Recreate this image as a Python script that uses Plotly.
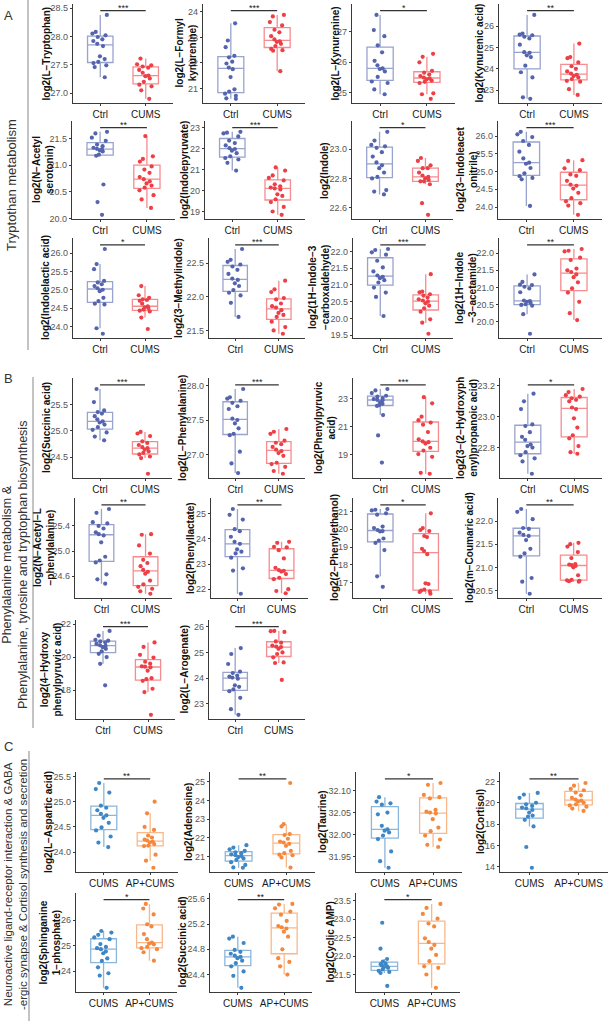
import plotly.graph_objects as go

W, H = 610, 1021

# ---------------- data ----------------
groups_AB = ["Ctrl", "CUMS"]
groups_C = ["CUMS", "AP+CUMS"]

titles_A = [
    "log2(L−Tryptophan)", "log2(L−Formyl<br>kynurenine)", "log2(L−Kynurenine)", "log2(Kynurenic acid)",
    "log2(N−Acetyl<br>serotonin)", "log2(Indolepyruvate)", "log2(Indole)", "log2(3−Indoleacet<br>onitrile)",
    "log2(Indolelactic acid)", "log2(3−Methylindole)", "log2(1H−Indole−3<br>−carboxaldehyde)", "log2(1H−Indole<br>−3−acetamide)",
]
ctrl_A = [
    [28.38, 28.08, 28.05, 28.02, 27.99, 27.95, 27.92, 27.87, 27.83, 27.65, 27.6, 27.55, 27.53, 27.49, 27.46, 27.28],
    [23.55, 22.88, 22.62, 22.28, 22.22, 22.05, 21.98, 21.82, 21.76, 21.45, 20.97, 20.88, 20.8, 20.72, 20.62, 20.6],
    [27.56, 27.06, 26.86, 26.56, 26.33, 26.05, 25.9, 25.8, 25.78, 25.7, 25.52, 25.37, 25.32, 25.11, 24.95],
    [26.52, 25.65, 25.6, 25.57, 25.5, 25.42, 25.13, 24.78, 24.75, 24.63, 24.55, 24.15, 23.84, 23.6, 22.67, 22.6],
    [21.63, 21.6, 21.52, 21.46, 21.39, 21.36, 21.33, 21.31, 21.3, 21.28, 21.26, 21.2, 21.18, 20.64, 20.31, 20.07],
    [22.8, 22.76, 22.72, 22.58, 22.38, 22.26, 22.15, 22.02, 21.98, 21.9, 21.78, 21.63, 21.55, 21.48, 21.32, 20.95],
    [23.12, 23.06, 23.03, 23.02, 23.01, 22.98, 22.95, 22.91, 22.89, 22.87, 22.84, 22.81, 22.8, 22.72, 22.71, 22.69],
    [26.12, 26.05, 25.97, 25.86, 25.75, 25.56, 25.37, 25.25, 25.22, 25.1, 24.95, 24.87, 24.82, 24.78, 24.03],
    [26.11, 25.7, 25.56, 25.24, 25.2, 25.15, 25.1, 25.04, 25.0, 24.96, 24.78, 24.69, 24.62, 24.6, 23.95, 23.8],
    [22.71, 22.55, 22.52, 22.48, 22.45, 22.4, 22.34, 22.27, 22.25, 22.2, 22.16, 22.1, 22.06, 22.02, 21.91, 21.7],
    [22.07, 22.04, 21.97, 21.9, 21.72, 21.52, 21.4, 21.28, 21.24, 21.2, 21.14, 21.07, 20.92, 20.77, 20.64, 20.07],
    [21.38, 21.16, 21.08, 21.07, 21.02, 20.97, 20.86, 20.62, 20.6, 20.58, 20.55, 20.51, 20.49, 20.47, 20.22, 19.65],
]
cums_A = [
    [27.61, 27.51, 27.49, 27.47, 27.45, 27.41, 27.36, 27.31, 27.3, 27.26, 27.2, 27.15, 27.12, 27.05, 26.9],
    [23.88, 23.82, 23.6, 23.47, 23.3, 23.2, 23.05, 22.92, 22.85, 22.82, 22.75, 22.66, 22.55, 22.5, 22.48, 21.68],
    [26.28, 26.18, 26.0, 25.72, 25.66, 25.6, 25.55, 25.5, 25.47, 25.44, 25.4, 25.36, 25.32, 24.98, 24.95, 24.8],
    [25.18, 24.55, 24.5, 24.3, 24.12, 24.0, 23.88, 23.78, 23.72, 23.66, 23.6, 23.52, 23.44, 23.4, 23.05, 22.78],
    [21.55, 21.17, 21.12, 21.07, 20.98, 20.92, 20.86, 20.78, 20.74, 20.7, 20.66, 20.62, 20.58, 20.53, 20.44, 20.36, 20.2],
    [21.1, 20.95, 20.72, 20.6, 20.48, 20.3, 20.2, 20.14, 20.1, 20.05, 19.82, 19.74, 19.58, 19.45, 19.22, 19.0, 18.84],
    [22.94, 22.92, 22.89, 22.87, 22.87, 22.84, 22.82, 22.81, 22.8, 22.79, 22.78, 22.78, 22.76, 22.63, 22.55],
    [25.32, 25.3, 25.09, 25.04, 24.92, 24.88, 24.74, 24.63, 24.6, 24.52, 24.4, 24.25, 24.16, 24.11, 24.04, 23.78],
    [25.1, 24.85, 24.78, 24.74, 24.72, 24.7, 24.62, 24.55, 24.52, 24.5, 24.46, 24.43, 24.41, 24.24, 23.93],
    [22.24, 22.11, 22.07, 21.98, 21.96, 21.9, 21.86, 21.84, 21.8, 21.76, 21.73, 21.7, 21.63, 21.55, 21.5, 21.45],
    [21.32, 20.8, 20.78, 20.72, 20.68, 20.62, 20.57, 20.53, 20.5, 20.45, 20.38, 20.3, 20.2, 19.97, 19.87, 19.54],
    [22.12, 22.07, 22.05, 21.87, 21.8, 21.55, 21.5, 21.45, 21.38, 21.3, 21.15, 20.97, 20.85, 20.58, 20.25, 20.05],
]
stars_A = ["***", "***", "*", "**", "**", "***", "*", "***", "*", "***", "***", "**"]
ticks_A = [
    [27.0, 27.5, 28.0, 28.5], [21, 22, 23, 24], [25, 26, 27], [23, 24, 25, 26],
    [20.0, 20.5, 21.0, 21.5], [19, 20, 21, 22, 23], [22.6, 22.8, 23.0], [24.0, 24.5, 25.0, 25.5, 26.0],
    [24.0, 24.5, 25.0, 25.5, 26.0], [21.5, 22.0, 22.5], [19.5, 20.0, 20.5, 21.0, 21.5, 22.0], [20.0, 20.5, 21.0, 21.5, 22.0],
]

titles_B = [
    "log2(Succinic acid)", "log2(L−Phenylalanine)", "log2(Phenylpyruvic<br>acid)", "log2(3−(2−Hydroxyph<br>enyl)propanoic acid)",
    "log2(N−Acetyl−L<br>−phenylalanine)", "log2(Phenyllactate)", "log2(2−Phenylethanol)", "log2(m−Coumaric acid)",
    "log2(4−Hydroxy<br>phenylpyruvic acid)", "log2(L−Arogenate)",
]
ctrl_B = [
    [25.8, 25.55, 25.39, 25.36, 25.33, 25.28, 25.22, 25.18, 25.16, 25.12, 25.07, 25.02, 24.97, 24.89, 24.82],
    [27.95, 27.83, 27.81, 27.78, 27.75, 27.7, 27.66, 27.52, 27.5, 27.45, 27.38, 27.3, 27.28, 27.04, 26.87, 26.73],
    [23.7, 23.6, 23.41, 23.22, 23.15, 23.05, 22.98, 22.93, 22.9, 22.75, 22.64, 22.55, 22.49, 21.84, 20.38, 18.44],
    [23.15, 23.1, 23.05, 22.95, 22.94, 22.9, 22.87, 22.85, 22.82, 22.81, 22.8, 22.77, 22.75, 22.73, 22.71, 22.63],
    [25.67, 25.61, 25.46, 25.44, 25.4, 25.36, 25.3, 25.27, 25.25, 25.14, 24.91, 24.85, 24.82, 24.63, 24.55, 24.48],
    [25.18, 24.95, 24.76, 24.38, 24.3, 24.08, 23.88, 23.8, 23.58, 23.49, 23.42, 23.25, 22.83, 22.74, 21.82],
    [21.14, 21.1, 21.06, 20.9, 20.82, 20.15, 20.07, 19.96, 19.9, 19.88, 19.48, 19.36, 19.23, 18.83, 17.35, 16.76],
    [22.26, 22.2, 22.04, 21.85, 21.83, 21.75, 21.7, 21.68, 21.59, 21.4, 21.3, 21.23, 20.77, 20.69, 20.43],
    [21.59, 21.3, 21.05, 21.0, 20.95, 20.9, 20.8, 20.72, 20.68, 20.6, 20.5, 20.35, 20.2, 20.0, 19.59, 18.29],
    [25.17, 24.94, 24.55, 24.25, 24.2, 24.1, 24.06, 24.02, 23.98, 23.72, 23.66, 23.56, 23.49, 23.23, 22.79, 22.57],
]
cums_B = [
    [24.98, 24.95, 24.9, 24.8, 24.77, 24.73, 24.69, 24.67, 24.64, 24.61, 24.58, 24.55, 24.51, 24.48, 24.18],
    [27.37, 27.33, 27.3, 27.2, 27.17, 27.15, 27.11, 27.07, 27.05, 27.02, 26.98, 26.88, 26.86, 26.82, 26.76, 26.72],
    [23.12, 22.68, 21.72, 21.47, 21.3, 21.15, 20.62, 20.1, 19.95, 19.9, 19.8, 19.5, 19.3, 19.05, 18.85, 17.71, 17.64],
    [23.18, 23.16, 23.14, 23.13, 23.12, 23.11, 23.1, 23.06, 23.05, 22.99, 22.93, 22.88, 22.86, 22.81, 22.77, 22.76],
    [25.27, 25.26, 25.09, 24.96, 24.86, 24.81, 24.76, 24.7, 24.67, 24.64, 24.53, 24.47, 24.43, 24.4, 24.36, 24.32],
    [23.88, 23.84, 23.68, 23.66, 23.55, 23.22, 22.85, 22.76, 22.73, 22.7, 22.6, 22.45, 22.4, 22.0, 21.93, 21.84],
    [20.9, 20.07, 19.96, 19.9, 19.62, 19.56, 18.9, 18.77, 18.6, 16.96, 16.92, 16.6, 16.55, 16.5, 16.47, 16.37],
    [21.53, 21.5, 21.45, 21.33, 21.2, 21.07, 21.06, 21.05, 21.03, 21.0, 20.83, 20.73, 20.72, 20.71, 20.7, 20.69],
    [20.89, 20.62, 20.14, 19.97, 19.72, 19.6, 19.44, 19.42, 19.38, 19.18, 18.72, 18.66, 18.56, 18.08, 17.88, 16.5],
    [25.84, 25.83, 25.8, 25.43, 25.38, 25.27, 25.23, 25.21, 25.14, 25.0, 24.94, 24.81, 24.61, 24.59, 23.93],
]
stars_B = ["***", "***", "***", "*", "**", "**", "*", "**", "***", "***"]
ticks_B = [
    [24.5, 25.0, 25.5], [27.0, 27.5, 28.0], [19, 21, 23], [22.8, 23.0, 23.2],
    [24.6, 25.0, 25.4], [22, 23, 24, 25], [17, 18, 19, 20, 21], [20.5, 21.0, 21.5, 22.0],
    [18, 20, 22], [23, 24, 25, 26],
]

titles_C = [
    "log2(L−Aspartic acid)", "log2(Adenosine)", "log2(Taurine)", "log2(Cortisol)",
    "log2(Sphinganine<br>1−phosphate)", "log2(Succinic acid)", "log2(Cyclic AMP)",
]
cums_C = [
    [25.37, 25.25, 25.18, 24.92, 24.88, 24.83, 24.76, 24.73, 24.68, 24.58, 24.49, 24.43, 24.31, 24.19, 24.1],
    [21.61, 21.48, 21.39, 21.3, 21.23, 21.18, 21.12, 21.07, 21.03, 20.97, 20.9, 20.82, 20.7, 20.55, 20.42, 20.4],
    [32.085, 32.075, 32.071, 32.068, 32.05, 32.046, 32.02, 32.012, 32.009, 32.005, 31.998, 31.99, 31.962, 31.94, 31.925],
    [20.92, 20.77, 20.46, 20.0, 19.86, 19.7, 19.55, 19.48, 19.32, 19.08, 18.8, 18.7, 18.4, 17.78, 15.85, 13.9],
    [25.57, 25.51, 25.42, 25.32, 25.25, 25.06, 24.95, 24.9, 24.86, 24.77, 24.7, 24.5, 24.4, 24.15, 23.92, 23.83, 23.35],
    [25.0, 24.97, 24.9, 24.79, 24.76, 24.73, 24.7, 24.68, 24.66, 24.62, 24.58, 24.53, 24.45, 24.38, 24.19],
    [22.9, 22.2, 21.92, 21.85, 21.8, 21.78, 21.74, 21.72, 21.7, 21.68, 21.64, 21.6, 21.57, 21.54, 21.19],
]
apcums_C = [
    [25.0, 24.77, 24.5, 24.44, 24.33, 24.29, 24.25, 24.23, 24.21, 24.19, 24.16, 24.13, 24.12, 23.95, 23.83, 23.69],
    [24.93, 22.73, 22.61, 22.2, 22.15, 21.95, 21.8, 21.75, 21.68, 21.57, 21.3, 21.18, 21.1, 21.07, 20.95, 20.41],
    [32.117, 32.113, 32.09, 32.085, 32.082, 32.056, 32.052, 32.05, 32.048, 32.035, 32.016, 32.008, 31.998, 31.989, 31.977, 31.972],
    [21.85, 21.6, 21.3, 21.17, 20.95, 20.7, 20.45, 20.3, 20.2, 20.12, 20.0, 19.85, 19.75, 19.63, 19.45, 19.23],
    [26.63, 26.45, 26.22, 25.83, 25.75, 25.45, 25.25, 25.12, 25.08, 25.05, 24.95, 24.9, 24.86, 24.74, 24.41],
    [25.52, 25.51, 25.45, 25.4, 25.35, 25.25, 25.17, 25.15, 25.13, 25.08, 25.0, 24.8, 24.66, 24.6, 24.53, 24.4],
    [23.41, 23.3, 23.14, 23.01, 22.88, 22.8, 22.48, 22.38, 22.3, 22.2, 22.03, 21.86, 21.72, 21.68, 21.5, 21.14],
]
stars_C = ["**", "**", "*", "**", "*", "**", "*"]
ticks_C = [
    [24.0, 24.5, 25.0, 25.5], [21, 22, 23, 24, 25], [31.95, 32.00, 32.05, 32.10], [14, 16, 18, 20, 22],
    [24, 25, 26], [24.4, 24.8, 25.2, 25.6], [21.5, 22.0, 22.5, 23.0, 23.5],
]

section_titles = [
    "Tryptothan metabolism",
    "Phenylalanine metabolism &<br>Phenylalanine, tyrosine and tryptophan biosynthesis",
    "Neuroactive ligand-receptor interaction & GABA<br>-ergic synapse & Cortisol synthesis and secretion",
]

# ---------------- layout (pixel rectangles of the plot areas) ----------------
rects = [
    # A
    (73, 173, 4, 103), (203, 305, 4, 103), (352, 455, 4, 103), (499, 602, 4, 103),
    (72, 175, 121, 219), (205, 305, 121, 219), (352, 453, 121, 219), (498, 602, 121, 219),
    (73, 172, 238, 338), (209, 305, 238, 338), (353, 453, 238, 338), (499, 602, 238, 338),
    # B
    (73, 172, 378, 478), (209, 305, 378, 478), (353, 453, 378, 478), (500, 602, 378, 478),
    (75, 172, 498, 598), (211, 308, 498, 598), (353, 453, 498, 598), (498, 602, 498, 598),
    (76, 175, 620, 719), (209, 305, 620, 719),
    # C
    (76, 178, 772, 872), (210, 315, 772, 872), (356, 462, 772, 872), (500, 608, 772, 872),
    (76, 177, 893, 992), (210, 312, 893, 992), (356, 460, 893, 992),
]
# horizontal centre (px) of each y-axis title block
title_x = [
    46, 185, 335, 479,
    43, 184, 324, 467,
    46, 179, 319, 466,
    46, 182, 325, 467,
    44, 190, 334, 469,
    50, 184,
    48, 188, 322, 480,
    49, 182, 330,
]

BLUE_A, RED_A = "#5465AE", "#EE3F46"
BLUE_A_L, RED_A_L = "rgba(84,101,174,0.6)", "rgba(238,63,70,0.6)"
BLUE_C, ORANGE_C = "#3E86C6", "#F5883C"
BLUE_C_L, ORANGE_C_L = "rgba(62,134,198,0.6)", "rgba(245,136,60,0.6)"

panels = []
for t, a, b, s, tk in zip(titles_A, ctrl_A, cums_A, stars_A, ticks_A):
    panels.append((t, a, b, s, tk, groups_AB, (BLUE_A, RED_A), (BLUE_A_L, RED_A_L)))
for t, a, b, s, tk in zip(titles_B, ctrl_B, cums_B, stars_B, ticks_B):
    panels.append((t, a, b, s, tk, groups_AB, (BLUE_A, RED_A), (BLUE_A_L, RED_A_L)))
for t, a, b, s, tk in zip(titles_C, cums_C, apcums_C, stars_C, ticks_C):
    panels.append((t, a, b, s, tk, groups_C, (BLUE_C, ORANGE_C), (BLUE_C_L, ORANGE_C_L)))

FONT = "Liberation Sans, Arial, sans-serif"
fig = go.Figure()
layout = dict(
    width=W, height=H, margin=dict(l=0, r=0, t=0, b=0),
    paper_bgcolor="white", plot_bgcolor="white", showlegend=False,
    font=dict(family=FONT), boxmode="overlay",
)
shapes, annos = [], []

for i, ((title, g1, g2, st, tk, gnames, cols, lcols), (x0, x1, y0, y1), tx) in enumerate(zip(panels, rects, title_x)):
    n = i + 1
    xa, ya = ("x" if n == 1 else f"x{n}"), ("y" if n == 1 else f"y{n}")
    for vals, nm, c, lc in zip((g1, g2), gnames, cols, lcols):
        fig.add_trace(go.Box(
            y=vals, name=nm, xaxis=xa, yaxis=ya,
            boxpoints="all", jitter=0.75, pointpos=0, width=0.56,
            marker=dict(color=c, size=4.2, line=dict(width=0)),
            line=dict(color=lc, width=1.3), fillcolor="rgba(255,255,255,0)",
            whiskerwidth=0, quartilemethod="linear", hoverinfo="y",
        ))
    allv = g1 + g2
    lo, hi = min(allv), max(allv)
    span = hi - lo
    bar = hi + 0.05 * span
    yr = [lo - 0.05 * span, hi + 0.13 * span]
    dec = max((len(str(v).split(".")[1]) if "." in str(v) else 0) for v in tk)
    fmt = f".{dec}f"
    xkey = "xaxis" if n == 1 else f"xaxis{n}"
    ykey = "yaxis" if n == 1 else f"yaxis{n}"
    layout[xkey] = dict(
        domain=[x0 / W, x1 / W], anchor=ya, type="category", range=[-0.6, 1.6],
        showline=True, linecolor="#3a3a3a", linewidth=1.2, ticks="outside", ticklen=2,
        tickcolor="#3a3a3a", tickfont=dict(size=10, color="#1a1a1a", family=FONT),
        showgrid=False, zeroline=False, automargin=False, fixedrange=True,
    )
    layout[ykey] = dict(
        domain=[1 - y1 / H, 1 - y0 / H], anchor=xa, range=yr, tickvals=tk, tickformat=fmt,
        showline=True, linecolor="#3a3a3a", linewidth=1.2, ticks="outside", ticklen=2,
        tickcolor="#3a3a3a", tickfont=dict(size=9, color="#555555", family=FONT),
        showgrid=False, zeroline=False, automargin=False, fixedrange=True,
    )
    # y-axis title as rotated annotation for precise placement
    annos.append(dict(xref="paper", yref="paper", x=tx / W, y=1 - (y0 + y1) / 2 / H,
                      text=f"<b>{title}</b>", showarrow=False, textangle=-90,
                      xanchor="center", yanchor="middle",
                      font=dict(size=10, color="#111111", family=FONT)))
    shapes.append(dict(type="line", xref=xa, yref=ya, x0=0, x1=1, y0=bar, y1=bar,
                       line=dict(color="#333333", width=1.2)))
    annos.append(dict(xref=xa, yref=ya, x=0.5, y=bar, text=st, showarrow=False,
                      yanchor="bottom", yshift=-4, font=dict(size=9, color="#222222", family=FONT)))

# section letters, side labels and separator lines
for letter, ypx in zip(["A", "B", "C"], [16, 378, 746]):
    annos.append(dict(xref="paper", yref="paper", x=8 / W, y=1 - ypx / H, text=letter, showarrow=False,
                      xanchor="center", yanchor="middle", font=dict(size=13, color="#333333", family=FONT)))
side_pos = [(12, 185, 13), (15, 565, 12.5), (15, 885, 11.5)]
for txt, (xp, yp, fs) in zip(section_titles, side_pos):
    annos.append(dict(xref="paper", yref="paper", x=xp / W, y=1 - yp / H, text=txt, showarrow=False,
                      textangle=-90, xanchor="center", yanchor="middle",
                      font=dict(size=fs, color="#333333", family=FONT)))
for xp, ya0, ya1 in [(28, 0, 350), (33, 377, 728), (29, 751, 1021)]:
    shapes.append(dict(type="line", xref="paper", yref="paper", x0=xp / W, x1=xp / W,
                       y0=1 - ya0 / H, y1=1 - ya1 / H, line=dict(color="#888888", width=1)))

layout["shapes"] = shapes
layout["annotations"] = annos
fig.update_layout(**layout)
fig.write_html("out.html")
